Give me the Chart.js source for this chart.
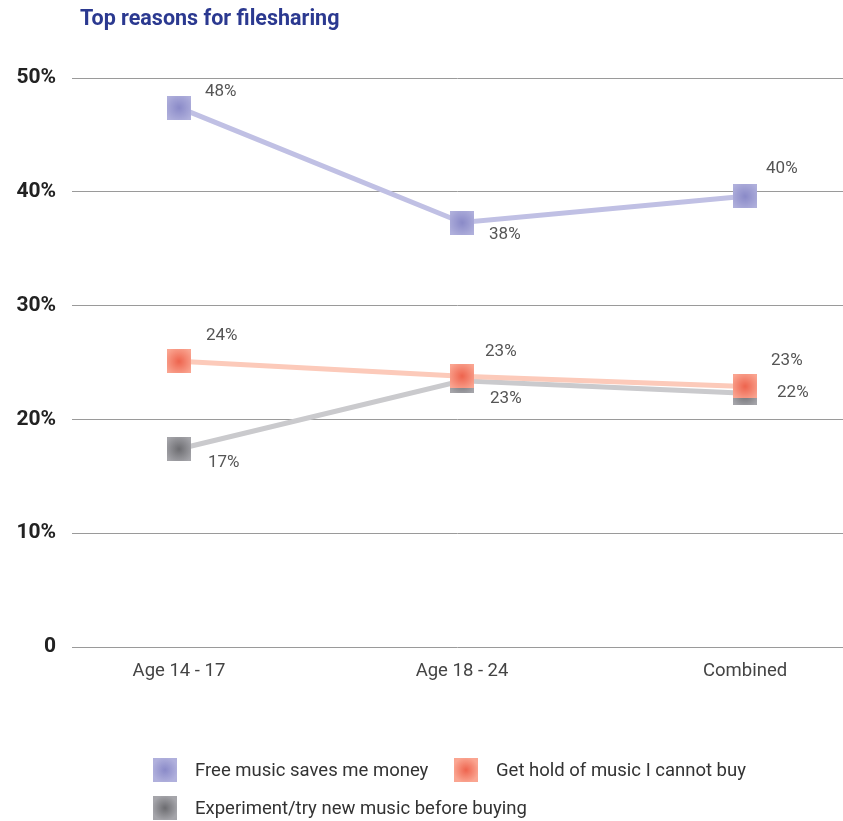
<!DOCTYPE html>
<html>
<head>
<meta charset="utf-8">
<script src="https://cdn.jsdelivr.net/npm/chart.js@4.4.1/dist/chart.umd.min.js"></script>
<style>
  html, body { margin: 0; background: #fff; font-family: Roboto, "Open Sans", sans-serif; overflow: hidden; }
  #wrap { position: relative; width: 843px; height: 821px; }
  #chart { display: block; }
  #title { position: absolute; left: 80px; top: 5px; font-size: 21.5px; font-weight: bold; color: #2b3990; }
  .leg { position: absolute; font-size: 18.5px; color: #333; display: flex; align-items: center; }
  .sw { width: 24px; height: 24px; margin-right: 18px; }
</style>
</head>
<body>
<div id="wrap">
  <canvas id="chart" width="843" height="821"></canvas>
  <div id="title">Top reasons for filesharing</div>
  <div id="legend"></div>
</div>
<script>
const categories = ['Age 14 - 17', 'Age 18 - 24', 'Combined'];
const seriesNames = [
  'Free music saves me money',
  'Get hold of music I cannot buy',
  'Experiment/try new music before buying',
];
const freeMusic = [47.4, 37.3, 39.6];
const cannotBuy = [25.1, 23.8, 22.9];
const experiment = [17.4, 23.4, 22.3];
const shownLabels = [
  ['48%', '38%', '40%'],
  ['24%', '23%', '23%'],
  ['17%', '23%', '22%'],
];
const yTicks = [0, 10, 20, 30, 40, 50];

const styles = [
  { line: 'rgb(192, 192, 228)', outer: 'rgb(176, 176, 220)', inner: 'rgb(138, 138, 200)' },
  { line: 'rgb(252, 202, 186)', outer: 'rgb(250, 165, 145)', inner: 'rgb(238, 100, 78)' },
  { line: 'rgb(202, 202, 205)', outer: 'rgb(165, 165, 170)', inner: 'rgb(108, 108, 112)' },
];

// label offsets from each point (left edge of text, vertical centre)
const labelOffsets = [
  [[26, -16], [27, 12], [21, -28]],
  [[27, -26], [23, -24], [26, -26]],
  [[29, 14], [28, 18], [32, 0]],
];

function square(s, size) {
  const c = document.createElement('canvas');
  c.width = size; c.height = size;
  const g = c.getContext('2d');
  const grad = g.createRadialGradient(size / 2, size / 2, 0, size / 2, size / 2, size * 0.62);
  grad.addColorStop(0, s.inner);
  grad.addColorStop(1, s.outer);
  g.fillStyle = grad;
  g.fillRect(0, 0, size, size);
  return c;
}

const values = [freeMusic, cannotBuy, experiment];

const datasets = values.map((vals, i) => ({
  label: seriesNames[i],
  data: vals.map((v, j) => ({ x: j, y: v })),
  borderColor: styles[i].line,
  borderWidth: 5,
  pointStyle: square(styles[i], 24),
  pointRadius: 12,
  pointHoverRadius: 12,
  tension: 0,
}));

const pointLabels = {
  id: 'pointLabels',
  afterDatasetsDraw(chart) {
    const ctx = chart.ctx;
    ctx.save();
    ctx.font = '17px Roboto, "Open Sans", sans-serif';
    ctx.fillStyle = '#555';
    ctx.textAlign = 'left';
    ctx.textBaseline = 'middle';
    chart.data.datasets.forEach((ds, i) => {
      chart.getDatasetMeta(i).data.forEach((pt, j) => {
        const off = labelOffsets[i][j];
        ctx.fillText(shownLabels[i][j], pt.x + off[0], pt.y + off[1]);
      });
    });
    ctx.restore();
  }
};

new Chart(document.getElementById('chart'), {
  type: 'line',
  data: { datasets },
  options: {
    responsive: false,
    animation: false,
    layout: { autoPadding: false, padding: { top: 78, right: 0, bottom: 134, left: 0 } },
    plugins: {
      legend: { display: false },
      tooltip: { enabled: false },
    },
    scales: {
      x: {
        type: 'linear',
        min: -0.378,
        max: 2.346,
        afterFit(scale) {
          scale.height = 40;
          scale.paddingLeft = 0;
          scale.paddingRight = 0;
        },
        afterBuildTicks(scale) {
          scale.ticks = categories.map((c, i) => ({ value: i }));
        },
        grid: { display: false },
        border: { display: false },
        ticks: {
          padding: 5,
          color: '#444',
          font: { size: 18.5, family: 'Roboto, "Open Sans", sans-serif' },
          callback: v => categories[v],
        },
      },
      y: {
        min: 0,
        max: 50,
        afterFit(scale) { scale.width = 72; },
        afterBuildTicks(scale) {
          scale.ticks = yTicks.map(v => ({ value: v }));
        },
        grid: { color: '#9a9a9a', lineWidth: 1, drawTicks: false },
        border: { display: false },
        ticks: {
          padding: 16,
          color: '#222',
          font: { size: 21, weight: 'bold', family: 'Roboto, "Open Sans", sans-serif' },
          callback: v => v === 0 ? '0' : v + '%',
        },
      },
    },
  },
  plugins: [pointLabels],
});

// legend below the chart
const legendPos = [[153, 758], [454, 758], [153, 796]];
const legend = document.getElementById('legend');
seriesNames.forEach((name, i) => {
  const item = document.createElement('div');
  item.className = 'leg';
  item.style.left = legendPos[i][0] + 'px';
  item.style.top = legendPos[i][1] + 'px';
  const sw = document.createElement('div');
  sw.className = 'sw';
  sw.style.background = `radial-gradient(circle, ${styles[i].inner}, ${styles[i].outer} 75%)`;
  const txt = document.createElement('span');
  txt.textContent = name;
  item.appendChild(sw);
  item.appendChild(txt);
  legend.appendChild(item);
});
</script>
</body>
</html>
